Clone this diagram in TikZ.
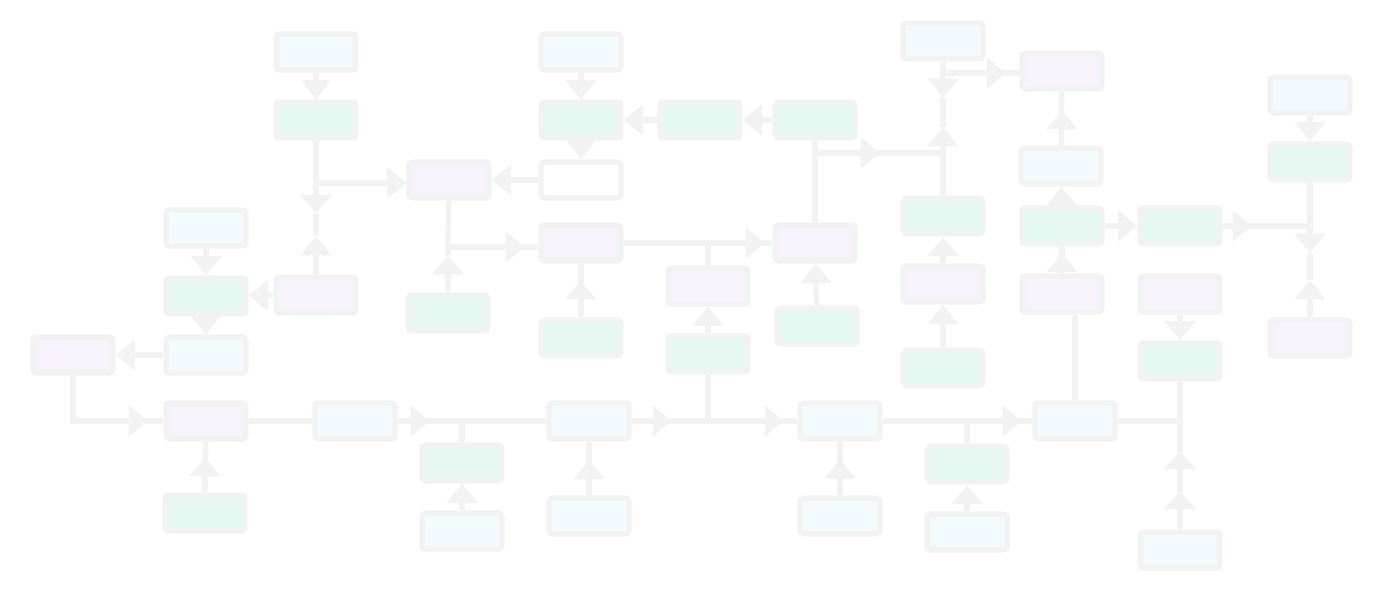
\documentclass[tikz,border=0pt]{standalone}
\usetikzlibrary{arrows.meta,backgrounds}
\definecolor{edgegray}{RGB}{242,242,242}
\definecolor{fillblue}{RGB}{243,250,253}
\definecolor{fillgreen}{RGB}{230,248,242}
\definecolor{fillpurple}{RGB}{247,242,252}

\begin{document}
\begin{tikzpicture}[x=0.02cm, y=-0.02cm,
  box/.style={draw=edgegray, line width=3pt, rounded corners=2pt,
    minimum width=1.6cm, minimum height=0.72cm, inner sep=0pt},
  bluebox/.style={box, fill=fillblue},
  greenbox/.style={box, fill=fillgreen},
  purplebox/.style={box, fill=fillpurple},
  whitebox/.style={box, fill=white},
  wire/.style={draw=edgegray, line width=3pt},
  flow/.style={wire, -{Triangle[length=11pt, width=17pt]}}
  ]
  \useasboundingbox (0,0) rectangle (1400,607);

  \node[bluebox] (a1) at (316,52) {};
  \node[greenbox] (a2) at (316,120) {};
  \node[purplebox] (a3) at (316,295) {};
  \node[purplebox] (p1) at (449,180) {};
  \node[greenbox] (p2) at (448,313) {};
  \node[bluebox] (b1) at (581,52) {};
  \node[greenbox] (b2) at (581,120) {};
  \node[whitebox] (b3) at (581,180) {};
  \node[greenbox] (g1) at (700,120) {};
  \node[greenbox] (h1) at (815,120) {};
  \node[purplebox] (s1) at (581,243) {};
  \node[greenbox] (s2) at (581,338) {};
  \node[purplebox] (t1) at (708,286) {};
  \node[greenbox] (t2) at (708,354) {};
  \node[purplebox] (u1) at (815,243) {};
  \node[greenbox] (u2) at (817,326) {};
  \node[bluebox] (c1) at (943,41) {};
  \node[greenbox] (c2) at (943,216) {};
  \node[purplebox] (w1) at (943,284) {};
  \node[greenbox] (w2) at (943,368) {};
  \node[purplebox] (d1) at (1062,71) {};
  \node[bluebox] (d2) at (1061,166) {};
  \node[greenbox] (d3) at (1062,226) {};
  \node[purplebox] (x1) at (1062,294) {};
  \node[greenbox] (e1) at (1180,226) {};
  \node[purplebox] (e2) at (1180,294) {};
  \node[greenbox] (e3) at (1180,361) {};
  \node[bluebox] (z1) at (1180,550) {};
  \node[bluebox] (f1) at (1310,95) {};
  \node[greenbox] (f2) at (1310,162) {};
  \node[purplebox] (f3) at (1310,338) {};
  \node[bluebox] (k1) at (206,228) {};
  \node[greenbox] (k2) at (206,296) {};
  \node[bluebox] (k3) at (206,355) {};
  \node[purplebox] (l1) at (73,355) {};
  \node[purplebox] (m1) at (206,421) {};
  \node[greenbox] (n1) at (205,513) {};
  \node[bluebox] (o1) at (355,421) {};
  \node[greenbox] (q1) at (462,463) {};
  \node[bluebox] (q2) at (462,531) {};
  \node[bluebox] (r1) at (589,421) {};
  \node[bluebox] (r2) at (589,516) {};
  \node[bluebox] (v1) at (840,421) {};
  \node[bluebox] (v2) at (840,516) {};
  \node[greenbox] (x2) at (967,464) {};
  \node[bluebox] (x3) at (967,532) {};
  \node[bluebox] (y1) at (1075,421) {};

  \begin{scope}[on background layer]
  % upper left
  \coordinate (a2br) at (316,183);
  \coordinate (a2dn) at (316,214);
  \coordinate (a3up) at (316,236);
  \draw[flow] (a1) -- (a2);
  \draw[flow] (a2) -- (a2dn);
  \draw[flow] (a3) -- (a3up);
  \draw[wire] (a2dn) -- (a3up);
  \draw[flow] (a2br) -- (a2br -| p1.west);
  \draw[flow] (a3) -- (k2);
  \draw[flow] (b1) -- (b2);
  \draw[flow] (b2) -- (b3);
  \draw[flow] (b3) -- (p1);
  \draw[flow] (g1) -- (b2);
  \draw[flow] (h1) -- (g1);

  \coordinate (p1j) at (448,247);
  \coordinate (p2up) at (448,255);
  \draw[wire] (p1) -- (p1j);
  \draw[flow] (p2) -- (p2up);
  \draw[wire] (p2up) -- (p1j);
  \draw[wire] (p1j) -- (p1j -| s1.west);
  \draw[flow] (p1j) -- (525,247);
  \draw[wire] (s2) -- (s1);
  \draw[flow] (s2) -- (581,280);
  \draw[wire] (s1) -- (u1);
  \draw[flow] (s1) -- (765,243);
  \draw[wire] (t1) -- (t1 |- s1);
  \draw[flow] (t2) -- (t1);
  \draw[flow] (u2) -- (u1);

  % middle spine
  \coordinate (hbr) at (815,153);
  \coordinate (cj) at (943,153);
  \coordinate (c1br) at (943,73);
  \coordinate (c1dn) at (943,98);
  \coordinate (c2up) at (943,127);
  \draw[wire] (h1) -- (u1);
  \draw[wire] (hbr) -- (cj);
  \draw[flow] (hbr) -- (880,153);
  \draw[flow] (c1) -- (c1dn);
  \draw[wire] (c1dn) -- (c2up);
  \draw[flow] (c2) -- (c2up);
  \draw[wire] (c1br) -- (c1br -| d1.west);
  \draw[flow] (c1br) -- (1006,73);
  \draw[flow] (w1) -- (c2);
  \draw[flow] (w2) -- (w1);

  % right part
  \draw[wire] (d2) -- (d1);
  \draw[flow] (d2) -- (1062,110);
  \draw[flow] (d3) -- (d2);
  \draw[wire] (x1) -- (d3);
  \draw[flow] (x1) -- (1062,253);
  \draw[flow] (d3) -- (e1);
  \coordinate (fj) at (1310,226);
  \coordinate (f2dn) at (1310,253);
  \coordinate (f3up) at (1310,280);
  \draw[wire] (e1) -- (fj);
  \draw[flow] (e1) -- (1252,226);
  \draw[flow] (f1) -- (f2);
  \draw[flow] (f2) -- (f2dn);
  \draw[wire] (f2dn) -- (f3up);
  \draw[flow] (f3) -- (f3up);
  \draw[flow] (e2) -- (e3);
  \draw[wire] (z1) -- (e3);
  \draw[flow] (z1) -- (1180,490);
  \draw[flow] (z1) -- (1180,450);

  % lower left
  \draw[flow] (k1) -- (k2);
  \draw[flow] (k2) -- (k3);
  \draw[flow] (k3) -- (l1);
  \draw[wire] (l1) |- (m1);
  \draw[flow] (l1) |- (148,421);
  \draw[wire] (n1) -- (m1);
  \draw[flow] (n1) -- (205,457);

  % bottom line
  \coordinate (qj) at (462,421);
  \coordinate (tj) at (708,421);
  \coordinate (xj) at (967,421);
  \draw[wire] (m1) -- (o1);
  \draw[wire] (o1) -- (r1);
  \draw[flow] (o1) -- (430,421);
  \draw[wire] (qj) -- (q1);
  \draw[flow] (q2) -- (q1);
  \draw[wire] (r2) -- (r1);
  \draw[flow] (r2) -- (589,460);
  \draw[wire] (r1) -- (v1);
  \draw[flow] (r1) -- (672,421);
  \draw[flow] (tj) -- (784,421);
  \draw[wire] (t2) -- (tj);
  \draw[wire] (v2) -- (v1);
  \draw[flow] (v2) -- (840,459);
  \draw[wire] (v1) -- (y1);
  \draw[flow] (v1) -- (1022,421);
  \draw[wire] (xj) -- (x2);
  \draw[flow] (x3) -- (x2);
  \draw[wire] (y1) -- (y1 |- x1.south);
  \draw[wire] (y1) -- (y1 -| z1);
  \end{scope}
\end{tikzpicture}
\end{document}
